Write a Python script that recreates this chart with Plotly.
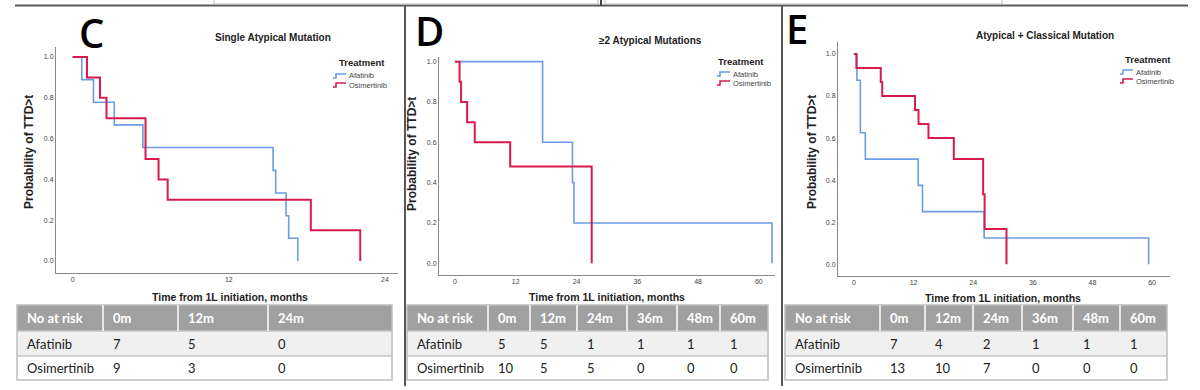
import plotly.graph_objects as go

W, H = 1200, 390

# ---------------- data ----------------
c_afa_t = [0, 0.7, 1.6, 3.2, 5.4, 15.4, 15.6, 16.4, 16.6, 17.3]
c_afa_s = [1.0, 0.889, 0.778, 0.667, 0.556, 0.444, 0.333, 0.222, 0.111, 0.0]
c_osi_t = [0, 1.1, 2.1, 2.6, 5.6, 6.6, 7.3, 18.3, 22.1]
c_osi_s = [1.0, 0.9, 0.8, 0.7, 0.5, 0.4, 0.3, 0.15, 0.0]

d_afa_t = [0, 17.3, 23.2, 23.5, 62.6]
d_afa_s = [1.0, 0.6, 0.4, 0.2, 0.0]
d_osi_t = [0, 0.9, 1.2, 2.4, 3.9, 10.9, 27.0]
d_osi_s = [1.0, 0.9, 0.8, 0.7, 0.6, 0.48, 0.0]

e_afa_t = [0, 0.6, 1.3, 2.3, 12.95, 13.8, 26.2, 59.3]
e_afa_s = [1.0, 0.875, 0.625, 0.5, 0.375, 0.25, 0.125, 0.0]
e_osi_t = [0, 0.5, 5.4, 5.7, 12.3, 13.0, 15.0, 20.1, 26.0, 26.3, 30.7]
e_osi_s = [1.0, 0.933, 0.867, 0.8, 0.733, 0.667, 0.6, 0.5, 0.333, 0.167, 0.0]

panel_letters = ["C", "D", "E"]
panel_titles = ["Single Atypical Mutation", "≥2 Atypical Mutations",
                "Atypical + Classical Mutation"]
treatments = ["Afatinib", "Osimertinib"]
legend_title = "Treatment"
x_ticks_c = [0, 12, 24]
x_ticks_de = [0, 12, 24, 36, 48, 60]
y_ticks = [0.0, 0.2, 0.4, 0.6, 0.8, 1.0]
y_title = "Probability of TTD>t"
x_title = "Time from 1L initiation, months"

risk_header_c = ["No at risk", "0m", "12m", "24m"]
risk_header_de = ["No at risk", "0m", "12m", "24m", "36m", "48m", "60m"]
risk_c_afa = [7, 5, 0]
risk_c_osi = [9, 3, 0]
risk_d_afa = [5, 5, 1, 1, 1, 1]
risk_d_osi = [10, 5, 5, 0, 0, 0]
risk_e_afa = [7, 4, 2, 1, 1, 1]
risk_e_osi = [13, 10, 7, 0, 0, 0]

# ---------------- styling / layout ----------------
BLUE = "#6a9de3"
RED = "#d81a4c"
AXIS = "#8a8a8a"
TXT = "#222222"


def px(x):
    return x / W


def py(y):
    return 1 - y / H


panels = [
    dict(curves=[(c_afa_t, c_afa_s), (c_osi_t, c_osi_s)], xticks=x_ticks_c,
         xd=(56, 398), yd=(273, 47), xr=(-1.28, 25.0), yr=(-0.059, 1.049),
         letter=(91, 32), title=(273, 38), ytitle=(29, 152), xtitle=(230, 297),
         leg_title=(362, 63), leg_x=333, leg_y=(76, 85),
         header=risk_header_c, rows=[risk_c_afa, risk_c_osi],
         cols=[17, 103, 178, 268, 392]),
    dict(curves=[(d_afa_t, d_afa_s), (d_osi_t, d_osi_s)], xticks=x_ticks_de,
         xd=(439, 775), yd=(275, 57), xr=(-3.16, 63.2), yr=(-0.058, 1.023),
         letter=(429, 31), title=(650, 41), ytitle=(412, 154), xtitle=(607, 297),
         leg_title=(741, 62), leg_x=717, leg_y=(74, 83),
         header=risk_header_de, rows=[risk_d_afa, risk_d_osi],
         cols=[407, 488, 530, 577, 627, 677, 720, 768]),
    dict(curves=[(e_afa_t, e_afa_s), (e_osi_t, e_osi_s)], xticks=x_ticks_de,
         xd=(838, 1170), yd=(276, 42), xr=(-3.2, 63.6), yr=(-0.056, 1.057),
         letter=(797, 29), title=(1045, 35), ytitle=(812, 152), xtitle=(1003, 298),
         leg_title=(1148, 59), leg_x=1120, leg_y=(72, 81),
         header=risk_header_de, rows=[risk_e_afa, risk_e_osi],
         cols=[785, 880, 925, 973, 1022, 1073, 1120, 1167]),
]

fig = go.Figure()
shapes = []
annotations = []
layout_axes = {}

for i, p in enumerate(panels):
    n = "" if i == 0 else str(i + 1)
    xa, ya = "x" + n, "y" + n
    for (t, s), col, w, name in zip(p["curves"], [BLUE, RED], [1.6, 2.0], treatments):
        fig.add_trace(go.Scatter(x=t, y=s, mode="lines", line=dict(color=col, width=w, shape="hv"),
                                 name=name, showlegend=False, xaxis=xa, yaxis=ya,
                                 hoverinfo="skip"))
    layout_axes["xaxis" + n] = dict(
        domain=[px(p["xd"][0]), px(p["xd"][1])], range=list(p["xr"]), anchor=ya,
        showline=True, linecolor=AXIS, linewidth=1, showgrid=False, zeroline=False,
        tickvals=p["xticks"], ticks="", tickfont=dict(size=7, color="#444",
                                                      family="Liberation Sans"),
        fixedrange=True)
    layout_axes["yaxis" + n] = dict(
        domain=[py(p["yd"][0]), py(p["yd"][1])], range=list(p["yr"]), anchor=xa,
        showline=True, linecolor=AXIS, linewidth=1, showgrid=False, zeroline=False,
        tickvals=y_ticks, tickformat=".1f", ticks="",
        tickfont=dict(size=7, color="#444", family="Liberation Sans"), fixedrange=True)

    # panel letter
    annotations.append(dict(x=px(p["letter"][0]), y=py(p["letter"][1]), xref="paper", yref="paper",
                            text=panel_letters[i], showarrow=False, xanchor="center", yanchor="middle",
                            font=dict(size=40, color="#000", family="Open Sans", weight=600)))
    # title
    annotations.append(dict(x=px(p["title"][0]), y=py(p["title"][1]), xref="paper", yref="paper",
                            text="<b>%s</b>" % panel_titles[i], showarrow=False,
                            xanchor="center", yanchor="middle",
                            font=dict(size=10, color=TXT, family="Liberation Sans")))
    # axis titles
    annotations.append(dict(x=px(p["ytitle"][0]), y=py(p["ytitle"][1]), xref="paper", yref="paper",
                            text="<b>%s</b>" % y_title, showarrow=False, textangle=-90,
                            xanchor="center", yanchor="middle",
                            font=dict(size=12, color=TXT, family="Liberation Sans")))
    annotations.append(dict(x=px(p["xtitle"][0]), y=py(p["xtitle"][1]), xref="paper", yref="paper",
                            text="<b>%s</b>" % x_title, showarrow=False,
                            xanchor="center", yanchor="middle",
                            font=dict(size=10.5, color=TXT, family="Liberation Sans")))
    # legend
    annotations.append(dict(x=px(p["leg_title"][0]), y=py(p["leg_title"][1]), xref="paper", yref="paper",
                            text="<b>%s</b>" % legend_title, showarrow=False,
                            xanchor="center", yanchor="middle",
                            font=dict(size=9.5, color=TXT, family="Liberation Sans")))
    for name, col, ly in zip(treatments, [BLUE, RED], p["leg_y"]):
        x0 = p["leg_x"]
        shapes.append(dict(type="path", xref="paper", yref="paper",
                           path="M %f,%f H %f V %f H %f" % (px(x0), py(ly + 2), px(x0 + 3),
                                                             py(ly - 2), px(x0 + 13)),
                           line=dict(color=col, width=1.6)))
        annotations.append(dict(x=px(x0 + 14), y=py(ly), xref="paper", yref="paper",
                                text=name, showarrow=False, xanchor="left", yanchor="middle",
                                font=dict(size=7.5, color="#444", family="Liberation Sans")))

    # number-at-risk table
    cols = p["cols"]
    left, right = cols[0], cols[-1]
    rows_y = [305, 331, 356, 380]
    shapes.append(dict(type="rect", xref="paper", yref="paper", x0=px(left), x1=px(right),
                       y0=py(rows_y[0]), y1=py(rows_y[1]), fillcolor="#a0a0a0", line=dict(width=0)))
    shapes.append(dict(type="rect", xref="paper", yref="paper", x0=px(left), x1=px(right),
                       y0=py(rows_y[1]), y1=py(rows_y[2]), fillcolor="#f0f0f0", line=dict(width=0)))
    shapes.append(dict(type="rect", xref="paper", yref="paper", x0=px(left), x1=px(right),
                       y0=py(rows_y[2]), y1=py(rows_y[3]), fillcolor="#ffffff", line=dict(width=0)))
    for yy in rows_y[1:3]:
        shapes.append(dict(type="line", xref="paper", yref="paper", x0=px(left), x1=px(right),
                           y0=py(yy), y1=py(yy), line=dict(color="#c4c4c4", width=1.5)))
    shapes.append(dict(type="rect", xref="paper", yref="paper", x0=px(left), x1=px(right),
                       y0=py(rows_y[0]), y1=py(rows_y[3]), line=dict(color="#bdbdbd", width=1.5)))
    for cx in cols[1:-1]:
        shapes.append(dict(type="line", xref="paper", yref="paper", x0=px(cx), x1=px(cx),
                           y0=py(rows_y[0]), y1=py(rows_y[1]), line=dict(color="#ffffff", width=1.5)))
    hdr_y = (rows_y[0] + rows_y[1]) / 2
    for cx, lab in zip(cols[:-1], p["header"]):
        annotations.append(dict(x=px(cx + 8), y=py(hdr_y), xref="paper", yref="paper", text=lab,
                                showarrow=False, xanchor="left", yanchor="middle",
                                font=dict(size=13, color="#ffffff", family="Lato", weight=700)))
    for r, (name, vals) in enumerate(zip(treatments, p["rows"])):
        ry = (rows_y[r + 1] + rows_y[r + 2]) / 2
        cells = [name] + [str(v) for v in vals]
        for cx, lab in zip(cols[:-1], cells):
            annotations.append(dict(x=px(cx + 8), y=py(ry), xref="paper", yref="paper", text=lab,
                                    showarrow=False, xanchor="left", yanchor="middle",
                                    font=dict(size=13, color=TXT, family="Lato")))

# frame remnants of the composite figure
shapes.append(dict(type="line", xref="paper", yref="paper", x0=px(15), x1=px(1188),
                   y0=py(5.5), y1=py(5.5), line=dict(color="#5a5a5a", width=2)))
shapes.append(dict(type="rect", xref="paper", yref="paper", x0=px(214), x1=px(598),
                   y0=py(4), y1=py(-2), line=dict(color="#bdbdbd", width=1)))
shapes.append(dict(type="rect", xref="paper", yref="paper", x0=px(605), x1=px(1002),
                   y0=py(4), y1=py(-2), line=dict(color="#bdbdbd", width=1)))
shapes.append(dict(type="line", xref="paper", yref="paper", x0=px(601), x1=px(601),
                   y0=py(0), y1=py(6), line=dict(color="#444", width=2)))
for bx in [405, 782]:
    shapes.append(dict(type="line", xref="paper", yref="paper", x0=px(bx), x1=px(bx),
                       y0=py(6), y1=py(386), line=dict(color="#444", width=1.8)))

fig.update_layout(
    width=W, height=H, autosize=False,
    margin=dict(l=0, r=0, t=0, b=0, pad=0),
    paper_bgcolor="#ffffff", plot_bgcolor="#ffffff",
    showlegend=False, shapes=shapes, annotations=annotations,
    font=dict(family="Liberation Sans"),
    **layout_axes,
)

fig.write_html("out.html", config={"displayModeBar": False},
               post_script="document.body.style.margin='0';document.body.style.overflow='hidden';")
